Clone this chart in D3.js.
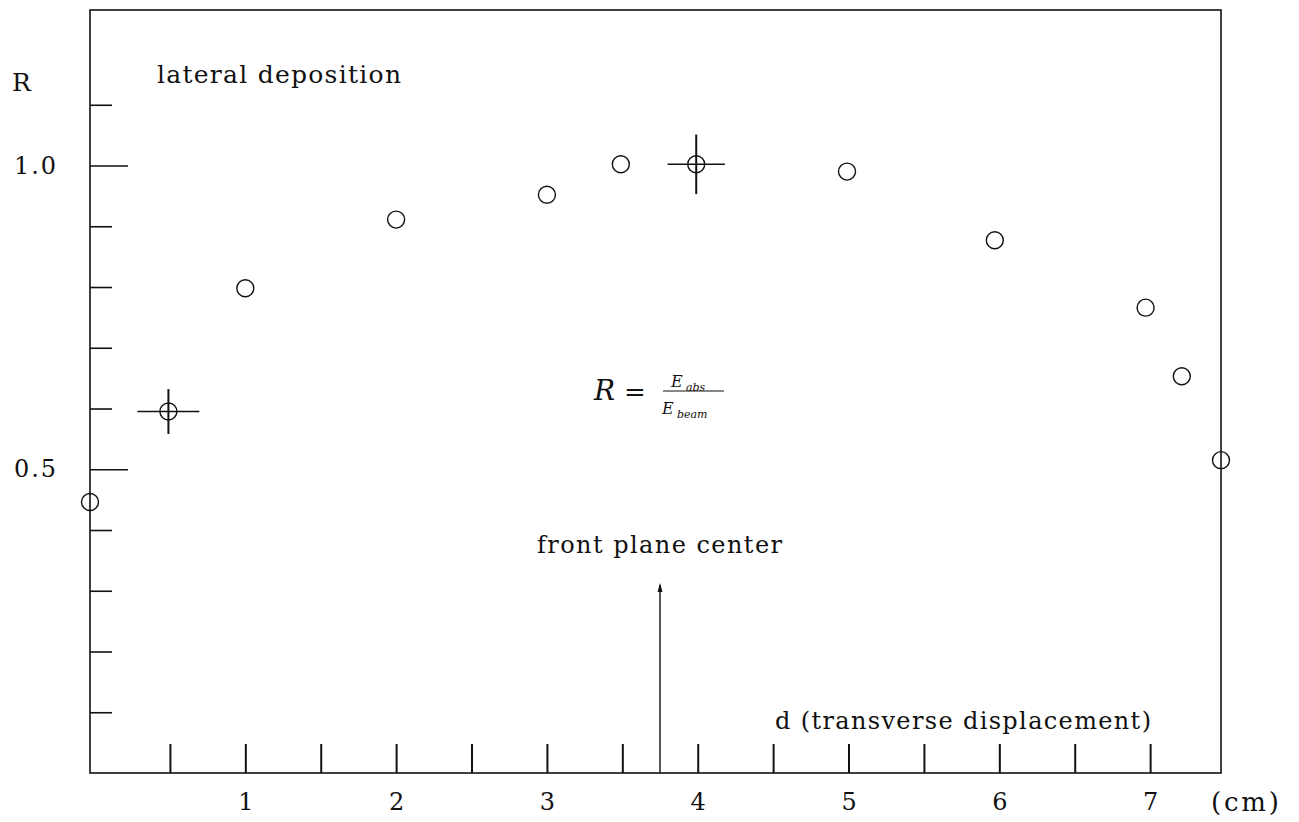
<!DOCTYPE html>
<html>
<head>
<meta charset="utf-8">
<script src="https://cdn.jsdelivr.net/npm/d3@7"></script>
<style>
  html, body { margin: 0; padding: 0; background: #fff; }
  svg { display: block; }
  svg text { font-family: "DejaVu Serif", "Liberation Serif", serif; fill: #111; }
</style>
</head>
<body>
<svg width="1299" height="822"></svg>
<script>
// d (cm) and R = E_abs / E_beam
const dValues = [-0.03, 0.49, 1.0, 2.0, 3.0, 3.49, 3.99, 4.99, 5.97, 6.97, 7.21, 7.47];
const rValues = [0.446, 0.595, 0.798, 0.911, 0.952, 1.002, 1.002, 0.990, 0.877, 0.766, 0.653, 0.515];

// two points carry error crosses
const errD = [0.49, 3.99];
const errR = [0.595, 1.002];
const errDd = [0.205, 0.19];
const errDr = [0.037, 0.049];

const xTicks = [0.5, 1, 1.5, 2, 2.5, 3, 3.5, 4, 4.5, 5, 5.5, 6, 6.5, 7];
const xLabels = [1, 2, 3, 4, 5, 6, 7];
const yMinor = [0.1, 0.2, 0.3, 0.4, 0.6, 0.7, 0.8, 0.9, 1.1];
const yMajor = [0.5, 1.0];

const frontPlane = 3.75;

const font = '"DejaVu Serif", "Liberation Serif", serif';
const svg = d3.select('svg');

const x = d3.scaleLinear().domain([-0.03, 7.47]).range([90, 1221]);
const y = d3.scaleLinear().domain([0, 1.256]).range([773, 10]);

// frame
svg.append('rect')
  .attr('x', x.range()[0])
  .attr('y', y.range()[1])
  .attr('width', x.range()[1] - x.range()[0])
  .attr('height', y.range()[0] - y.range()[1])
  .attr('fill', 'none')
  .attr('stroke', '#111')
  .attr('stroke-width', 1.6);

// x axis: ticks pointing up into the frame
const xAxis = svg.append('g')
  .attr('transform', `translate(0,${y(0)})`)
  .call(d3.axisBottom(x)
    .tickValues(xTicks)
    .tickSize(-29)
    .tickPadding(20)
    .tickFormat(d => (xLabels.includes(d) ? d : '')));
xAxis.select('.domain').remove();
xAxis.selectAll('.tick line').attr('stroke', '#111').attr('stroke-width', 2);
xAxis.selectAll('.tick text')
  .style('font-family', font)
  .style('font-size', '24px')
  .attr('fill', '#111');

// y axis: minor and major ticks
const yMinorAxis = svg.append('g')
  .attr('transform', `translate(${x.range()[0]},0)`)
  .call(d3.axisLeft(y).tickValues(yMinor).tickSize(-22).tickFormat(''));
yMinorAxis.select('.domain').remove();
yMinorAxis.selectAll('.tick line').attr('stroke', '#111').attr('stroke-width', 1.6);

const yMajorAxis = svg.append('g')
  .attr('transform', `translate(${x.range()[0]},0)`)
  .call(d3.axisLeft(y).tickValues(yMajor).tickSize(-38).tickPadding(34)
    .tickFormat(d3.format('.1f')));
yMajorAxis.select('.domain').remove();
yMajorAxis.selectAll('.tick line').attr('stroke', '#111').attr('stroke-width', 1.6);
yMajorAxis.selectAll('.tick text')
  .style('font-family', font)
  .style('font-size', '24px')
  .attr('fill', '#111')
  .attr('textLength', 42)
  .attr('lengthAdjust', 'spacing');

// error crosses
const errs = errD.map((d, i) => ({ d, r: errR[i], dd: errDd[i], dr: errDr[i] }));
const eg = svg.append('g').attr('stroke', '#111').attr('stroke-width', 1.6);
eg.selectAll('line.h')
  .data(errs)
  .join('line')
  .attr('class', 'h')
  .attr('x1', e => x(e.d - e.dd))
  .attr('x2', e => x(e.d + e.dd))
  .attr('y1', e => y(e.r))
  .attr('y2', e => y(e.r));
eg.selectAll('line.v')
  .data(errs)
  .join('line')
  .attr('class', 'v')
  .attr('x1', e => x(e.d))
  .attr('x2', e => x(e.d))
  .attr('y1', e => y(e.r - e.dr))
  .attr('y2', e => y(e.r + e.dr))
  .attr('stroke-width', 2);

// points
svg.append('g')
  .selectAll('circle')
  .data(dValues)
  .join('circle')
  .attr('cx', d => x(d))
  .attr('cy', (d, i) => y(rValues[i]))
  .attr('r', 8.5)
  .attr('fill', 'none')
  .attr('stroke', '#111')
  .attr('stroke-width', 1.4);

// arrow for front plane center
svg.append('line')
  .attr('x1', x(frontPlane)).attr('x2', x(frontPlane))
  .attr('y1', y(0)).attr('y2', 585)
  .attr('stroke', '#111').attr('stroke-width', 1.4);
svg.append('path')
  .attr('d', `M${x(frontPlane)},583 l-2.5,9 l5,0 z`)
  .attr('fill', '#111');

// labels
const label = (txt, px, py, size, len, extra) => {
  const t = svg.append('text')
    .attr('x', px).attr('y', py)
    .style('font-family', font)
    .style('font-size', size + 'px')
    .text(txt);
  if (len) t.attr('textLength', len).attr('lengthAdjust', 'spacing');
  if (extra) extra(t);
  return t;
};

label('R', 12, 91, 25);
label('lateral deposition', 157, 83, 25, 244);
label('front plane center', 537, 553, 24, 245);
label('d (transverse displacement)', 775, 729, 24, 376);
label('(cm)', 1211, 811, 26, 68);

// formula R = E_abs / E_beam
label('R', 594, 400, 28, null, t => t.style('font-style', 'italic'));
label('=', 624, 401, 26);
svg.append('line')
  .attr('x1', 663).attr('x2', 724)
  .attr('y1', 391).attr('y2', 391)
  .attr('stroke', '#111').attr('stroke-width', 1.2);
label('E', 671, 387, 16, null, t => t.style('font-style', 'italic'));
label('abs', 686, 391, 11, null, t => t.style('font-style', 'italic'));
label('E', 662, 414, 16, null, t => t.style('font-style', 'italic'));
label('beam', 677, 418, 11, null, t => t.style('font-style', 'italic'));
</script>
</body>
</html>
